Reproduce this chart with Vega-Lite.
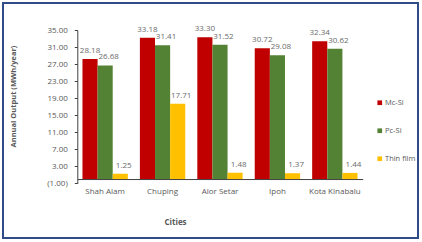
{
  "$schema": "https://vega.github.io/schema/vega-lite/v6.json",
  "width": 415,
  "height": 235,
  "autosize": {"type": "none"},
  "padding": {"left": 3, "top": 3, "right": 4, "bottom": 4},
  "background": "white",
  "config": {
    "view": {"stroke": "#2F4C88", "strokeWidth": 2},
    "font": "Open Sans"
  },
  "data": {
    "values": [
      {"city": "Shah Alam", "type": "Mc-Si", "value": 28.18},
      {"city": "Shah Alam", "type": "Pc-Si", "value": 26.68},
      {"city": "Shah Alam", "type": "Thin film", "value": 1.25},
      {"city": "Chuping", "type": "Mc-Si", "value": 33.18},
      {"city": "Chuping", "type": "Pc-Si", "value": 31.41},
      {"city": "Chuping", "type": "Thin film", "value": 17.71},
      {"city": "Alor Setar", "type": "Mc-Si", "value": 33.30},
      {"city": "Alor Setar", "type": "Pc-Si", "value": 31.52},
      {"city": "Alor Setar", "type": "Thin film", "value": 1.48},
      {"city": "Ipoh", "type": "Mc-Si", "value": 30.72},
      {"city": "Ipoh", "type": "Pc-Si", "value": 29.08},
      {"city": "Ipoh", "type": "Thin film", "value": 1.37},
      {"city": "Kota Kinabalu", "type": "Mc-Si", "value": 32.34},
      {"city": "Kota Kinabalu", "type": "Pc-Si", "value": 30.62},
      {"city": "Kota Kinabalu", "type": "Thin film", "value": 1.44}
    ]
  },
  "encoding": {
    "x": {
      "field": "city",
      "type": "nominal",
      "sort": ["Shah Alam", "Chuping", "Alor Setar", "Ipoh", "Kota Kinabalu"],
      "scale": {"range": [74.3, 359.7], "paddingInner": 0.21, "paddingOuter": 0.09},
      "axis": {
        "title": "Cities",
        "offset": -58.96,
        "labelAngle": 0,
        "ticks": false,
        "labelPadding": 8,
        "labelFontSize": 8,
        "labelColor": "#595959",
        "domainColor": "#404040",
        "domainWidth": 1,
        "titleFontSize": 8,
        "titleFontWeight": "bold",
        "titleColor": "#595959",
        "titleX": 172,
        "titleY": 43.7,
        "titleBaseline": "middle",
        "titleAlign": "center"
      }
    },
    "xOffset": {
      "field": "type",
      "type": "nominal",
      "sort": ["Mc-Si", "Pc-Si", "Thin film"],
      "scale": {"paddingInner": 0, "paddingOuter": 0}
    },
    "y": {
      "field": "value",
      "type": "quantitative",
      "scale": {"domain": [-1, 35], "range": [180.3, 27], "nice": false, "zero": false},
      "axis": {
        "title": "Annual Output (MWh/year)",
        "offset": -74.3,
        "values": [-1, 3, 7, 11, 15, 19, 23, 27, 31, 35],
        "labelExpr": "datum.value < 0 ? '(' + format(-datum.value, '.2f') + ')' : format(datum.value, '.2f')",
        "grid": false,
        "tickSize": 3,
        "tickColor": "#404040",
        "labelPadding": 7,
        "labelFontSize": 8,
        "labelColor": "#595959",
        "domainColor": "#404040",
        "titleFontSize": 7.5,
        "titleFontWeight": "bold",
        "titleColor": "#595959",
        "titleX": -64.3,
        "titleY": 93,
        "titleAngle": -90,
        "titleAlign": "center",
        "titleBaseline": "middle"
      }
    }
  },
  "layer": [
    {
      "mark": {"type": "bar"},
      "encoding": {
        "y2": {"datum": 0},
        "color": {
          "field": "type",
          "type": "nominal",
          "sort": ["Mc-Si", "Pc-Si", "Thin film"],
          "scale": {"domain": ["Mc-Si", "Pc-Si", "Thin film"], "range": ["#C00000", "#548235", "#FFC000"]},
          "legend": {
            "title": null,
            "orient": "none",
            "legendX": 373,
            "legendY": 96,
            "padding": 0,
            "symbolType": "square",
            "symbolSize": 22,
            "symbolStrokeWidth": 0,
            "labelFontSize": 7.5,
            "labelColor": "#595959",
            "labelOffset": 1.5,
            "labelLimit": 60,
            "rowPadding": 19
          }
        }
      }
    },
    {
      "transform": [{"filter": "datum.type === 'Mc-Si'"}],
      "mark": {"type": "text", "baseline": "middle", "dy": -8, "fontSize": 8, "color": "#6B6B6B"},
      "encoding": {"text": {"field": "value", "type": "quantitative", "format": ".2f"}}
    },
    {
      "transform": [{"filter": "datum.type !== 'Mc-Si'"}],
      "mark": {"type": "text", "baseline": "middle", "dy": -8, "dx": 3.5, "fontSize": 8, "color": "#6B6B6B"},
      "encoding": {"text": {"field": "value", "type": "quantitative", "format": ".2f"}}
    }
  ]
}
